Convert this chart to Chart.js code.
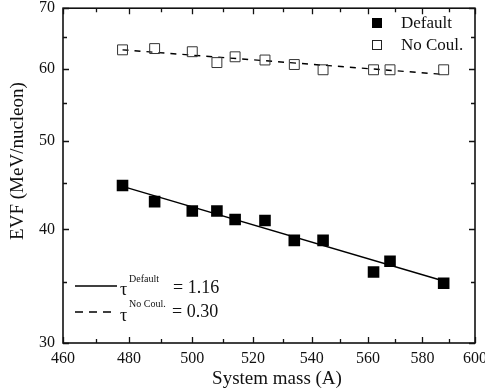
<!DOCTYPE html>
<html>
<head>
<meta charset="utf-8">
<script src="https://cdn.jsdelivr.net/npm/chart.js@4.4.0/dist/chart.umd.min.js"></script>
<style>
html, body { margin: 0; padding: 0; background: #fff; }
#wrap { position: relative; width: 485px; height: 392px; }
</style>
</head>
<body>
<div id="wrap"><canvas id="chart"></canvas></div>
<script>
// --- DATA ---
const massDefault = [478, 488, 500, 508, 514, 524, 534, 544, 562, 568, 588];
const evfDefault  = [44.7, 42.9, 41.9, 41.9, 41.0, 40.9, 38.9, 38.9, 35.9, 36.9, 34.9];
const massNoCoul  = [478, 488, 500, 508, 514, 524, 534, 544, 562, 568, 588];
const evfNoCoul   = [63.0, 63.2, 62.7, 61.0, 61.9, 61.4, 60.7, 59.9, 59.9, 59.9, 59.9];

// power-law fits (straight lines on log-log)
const fitMass       = [478, 588];
const fitDefaultEvf = [44.6, 35.1];
const fitNoCoulEvf  = [63.0, 59.2];

const xTicks = [460, 480, 500, 520, 540, 560, 580, 600];
const xMinor = [470, 490, 510, 530, 550, 570, 590];
const yTicks = [30, 40, 50, 60, 70];
const yMinor = [35, 45, 55, 65];

const SERIF = '"Liberation Serif", "Times New Roman", serif';
const toPts = (xs, ys) => xs.map((x, i) => ({ x: x, y: ys[i] }));

// --- frame, inward ticks, legends, titles ---
const decorations = {
    id: 'decorations',
    afterDraw(chart) {
        const ctx = chart.ctx;
        const { left, right, top, bottom } = chart.chartArea;
        const xs = chart.scales.x, ys = chart.scales.y;
        ctx.save();

        // ticks on all four sides
        ctx.strokeStyle = '#111';
        ctx.lineWidth = 1.3;
        const tickX = (vals, len) => vals.forEach(v => {
            const px = Math.round(xs.getPixelForValue(v)) + 0.5;
            ctx.beginPath();
            ctx.moveTo(px, bottom); ctx.lineTo(px, bottom - len);
            ctx.moveTo(px, top); ctx.lineTo(px, top + len);
            ctx.stroke();
        });
        const tickY = (vals, len) => vals.forEach(v => {
            const py = Math.round(ys.getPixelForValue(v)) + 0.5;
            ctx.beginPath();
            ctx.moveTo(left, py); ctx.lineTo(left + len, py);
            ctx.moveTo(right, py); ctx.lineTo(right - len, py);
            ctx.stroke();
        });
        tickX(xTicks, 6); tickX(xMinor, 4);
        tickY(yTicks, 6); tickY(yMinor, 4);

        // frame
        ctx.lineWidth = 1.6;
        ctx.strokeStyle = '#111';
        ctx.strokeRect(left, top, right - left, bottom - top);

        // legend top-right
        const d0 = chart.data.datasets[0], d1 = chart.data.datasets[1];
        ctx.fillStyle = '#000';
        ctx.fillRect(372, 18, 10, 10);
        ctx.lineWidth = 1;
        ctx.strokeStyle = '#222';
        ctx.strokeRect(372.5, 40.5, 9, 9);
        ctx.font = '17px ' + SERIF;
        ctx.textBaseline = 'middle';
        ctx.textAlign = 'left';
        ctx.fillStyle = '#111';
        ctx.fillText(d0.label, 401, 24);
        ctx.fillText(d1.label, 401, 46);

        // fit legend bottom-left
        ctx.strokeStyle = '#000';
        ctx.lineWidth = 1.4;
        ctx.beginPath(); ctx.moveTo(75, 286); ctx.lineTo(117, 286); ctx.stroke();
        ctx.setLineDash([8, 6]);
        ctx.beginPath(); ctx.moveTo(75, 312); ctx.lineTo(115, 312); ctx.stroke();
        ctx.setLineDash([]);

        ctx.font = '18px ' + SERIF;
        ctx.fillText('\u03C4', 120, 290);
        ctx.fillText('\u03C4', 120, 316);
        ctx.font = '10px ' + SERIF;
        ctx.fillText('Default', 129, 279);
        ctx.fillText('No Coul.', 129, 304);
        ctx.font = '18px ' + SERIF;
        ctx.fillText('= 1.16', 173, 288);
        ctx.fillText('= 0.30', 172, 312);

        // axis titles
        ctx.font = '19px ' + SERIF;
        ctx.textAlign = 'center';
        ctx.fillText('System mass (A)', 277, 379);
        ctx.translate(18, 161);
        ctx.rotate(-Math.PI / 2);
        ctx.fillText('EVF (MeV/nucleon)', 0, 0);

        ctx.restore();
    }
};

new Chart(document.getElementById('chart'), {
    type: 'scatter',
    data: {
        datasets: [
            {
                label: 'Default',
                data: toPts(massDefault, evfDefault),
                pointStyle: 'rect',
                pointRadius: 8.2,
                backgroundColor: '#000',
                borderColor: '#000',
                borderWidth: 0,
                order: 1
            },
            {
                label: 'No Coul.',
                data: toPts(massNoCoul, evfNoCoul),
                pointStyle: 'rect',
                pointRadius: 7,
                backgroundColor: 'rgba(0,0,0,0)',
                borderColor: '#333',
                borderWidth: 1,
                order: 1
            },
            {
                label: 'fit Default',
                data: toPts(fitMass, fitDefaultEvf),
                showLine: true,
                pointRadius: 0,
                borderColor: '#000',
                borderWidth: 1.4,
                order: 2
            },
            {
                label: 'fit No Coul.',
                data: toPts(fitMass, fitNoCoulEvf),
                showLine: true,
                pointRadius: 0,
                borderColor: '#000',
                borderWidth: 1.4,
                borderDash: [6, 6],
                order: 2
            }
        ]
    },
    options: {
        responsive: true,
        maintainAspectRatio: false,
        animation: false,
        layout: { padding: { top: 8, right: 10, left: 0, bottom: 0 } },
        plugins: { legend: { display: false }, tooltip: { enabled: false } },
        scales: {
            x: {
                type: 'logarithmic',
                min: 460, max: 600,
                afterBuildTicks: s => { s.ticks = xTicks.map(v => ({ value: v })); },
                afterFit: s => { s.height = 49; s.paddingLeft = 0; s.paddingRight = 0; },
                grid: { display: false, drawTicks: false },
                border: { display: false },
                ticks: {
                    callback: v => String(v),
                    padding: 6,
                    maxRotation: 0,
                    autoSkip: false,
                    color: '#111',
                    font: { family: SERIF, size: 16 }
                }
            },
            y: {
                type: 'logarithmic',
                min: 30, max: 70,
                afterBuildTicks: s => { s.ticks = yTicks.map(v => ({ value: v })); },
                afterFit: s => { s.width = 63; s.paddingTop = 0; s.paddingBottom = 0; },
                grid: { display: false, drawTicks: false },
                border: { display: false },
                ticks: {
                    callback: v => String(v),
                    padding: 8,
                    autoSkip: false,
                    color: '#111',
                    font: { family: SERIF, size: 16 }
                }
            }
        }
    },
    plugins: [decorations]
});
</script>
</body>
</html>
